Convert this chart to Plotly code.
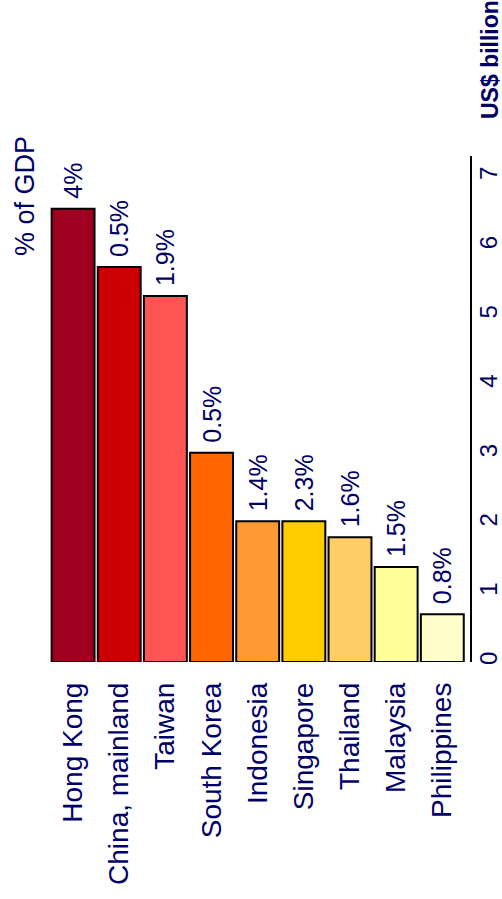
import plotly.graph_objects as go

categories = ["Hong Kong", "China, mainland", "Taiwan", "South Korea", "Indonesia",
              "Singapore", "Thailand", "Malaysia", "Philippines"]
values_usd_bn = [6.54, 5.70, 5.28, 3.02, 2.03, 2.03, 1.80, 1.37, 0.69]
pct_gdp_labels = ["4%", "0.5%", "1.9%", "0.5%", "1.4%", "2.3%", "1.6%", "1.5%", "0.8%"]
bar_colors = ["#A00020", "#CC0000", "#FF5555", "#FF6600", "#FF9933",
              "#FFCC00", "#FFCC66", "#FFFF99", "#FFFFCC"]
y_ticks = [0, 1, 2, 3, 4, 5, 6, 7]

NAVY = "#000066"
FONT = "Liberation Sans, Arial, sans-serif"

fig = go.Figure()
fig.add_trace(go.Bar(
    x=categories,
    y=values_usd_bn,
    marker=dict(color=bar_colors, line=dict(color="#000000", width=2)),
    text=["\u00a0" + t for t in pct_gdp_labels],
    textposition="outside",
    textangle=-90,
    constraintext="none",
    cliponaxis=False,
    textfont=dict(family=FONT, size=25, color=NAVY),
    width=0.93,
    hoverinfo="skip",
))

fig.update_layout(
    width=502, height=899,
    margin=dict(l=50, r=32, t=156, b=237, autoexpand=False),
    paper_bgcolor="white", plot_bgcolor="white",
    showlegend=False,
    font=dict(family=FONT, color=NAVY),
    xaxis=dict(
        type="category",
        range=[-0.5, 8.6],
        automargin=False,
        tickangle=-90,
        tickfont=dict(family=FONT, size=28, color=NAVY),
        showline=False, showgrid=False, zeroline=False,
        ticks="", ticklabelstandoff=14,
    ),
    yaxis=dict(
        side="right",
        range=[0, 7.3],
        automargin=False,
        tickvals=y_ticks,
        ticktext=[str(v) for v in y_ticks],
        tickangle=-90,
        tickfont=dict(family=FONT, size=24, color=NAVY),
        showline=True, linecolor="#000000", linewidth=2,
        showgrid=False, zeroline=False,
        ticks="", ticklabelstandoff=-4,
    ),
    annotations=[
        dict(text="% of GDP", xref="paper", yref="paper",
             x=-25/420, y=(662-196)/506, xanchor="center", yanchor="middle",
             textangle=-90, showarrow=False,
             font=dict(family=FONT, size=27, color=NAVY)),
        dict(text="<b>US$ billion</b>", xref="paper", yref="paper",
             x=(490-50)/420, y=(662-60)/506, xanchor="center", yanchor="middle",
             textangle=-90, showarrow=False,
             font=dict(family=FONT, size=23, color=NAVY)),
    ],
)

fig.write_html("out.html")
